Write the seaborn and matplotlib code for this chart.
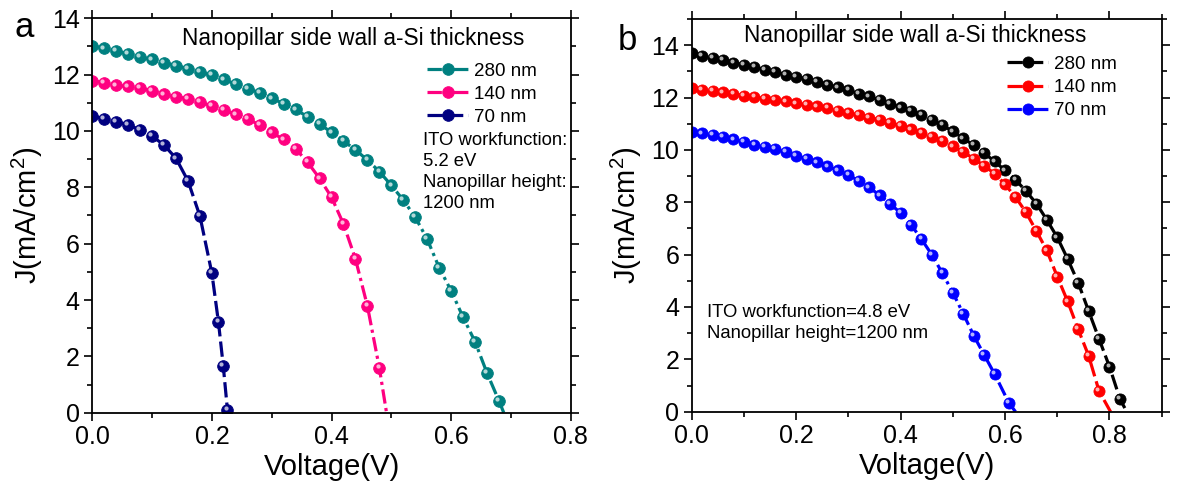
import matplotlib
matplotlib.use("Agg")
import matplotlib.pyplot as plt
import matplotlib.transforms as mtransforms
from matplotlib.ticker import MultipleLocator
import pandas as pd
import seaborn as sns

# ---------------- data ----------------
# Panel a : ITO workfunction 5.2 eV
a_labels = ["280 nm", "140 nm", "70 nm"]
a_colors = ["#008080", "#FF0080", "#000080"]

a280_v = [0.00, 0.02, 0.04, 0.06, 0.08, 0.10, 0.12, 0.14, 0.16, 0.18, 0.20, 0.22,
          0.24, 0.26, 0.28, 0.30, 0.32, 0.34, 0.36, 0.38, 0.40, 0.42, 0.44, 0.46,
          0.48, 0.50, 0.52, 0.54, 0.56, 0.58, 0.60, 0.62, 0.64, 0.66, 0.68]
a280_j = [13.03, 12.93, 12.84, 12.73, 12.62, 12.54, 12.43, 12.32, 12.21, 12.09, 11.98, 11.83,
          11.66, 11.50, 11.36, 11.16, 10.97, 10.77, 10.50, 10.25, 9.95, 9.65, 9.33, 8.97,
          8.56, 8.07, 7.55, 6.94, 6.16, 5.15, 4.33, 3.39, 2.52, 1.41, 0.42]
a280_voc = 0.688

a140_v = [0.00, 0.02, 0.04, 0.06, 0.08, 0.10, 0.12, 0.14, 0.16, 0.18, 0.20, 0.22,
          0.24, 0.26, 0.28, 0.30, 0.32, 0.34, 0.36, 0.38, 0.40, 0.42, 0.44, 0.46, 0.48]
a140_j = [11.78, 11.72, 11.62, 11.58, 11.52, 11.42, 11.30, 11.22, 11.14, 11.04, 10.88, 10.75,
          10.59, 10.43, 10.21, 9.95, 9.70, 9.37, 8.89, 8.32, 7.65, 6.70, 5.46, 3.79, 1.59]
a140_voc = 0.492

a70_v = [0.00, 0.02, 0.04, 0.06, 0.08, 0.10, 0.12, 0.14, 0.16, 0.18, 0.200, 0.211, 0.219, 0.226]
a70_j = [10.54, 10.43, 10.33, 10.22, 10.04, 9.82, 9.50, 9.03, 8.23, 6.98, 4.95, 3.21, 1.66, 0.10]
a70_voc = 0.228

# Panel b : ITO workfunction 4.8 eV
b_labels = ["280 nm", "140 nm", "70 nm"]
b_colors = ["#000000", "#FF0000", "#0000FF"]

b280_v = [0.00, 0.02, 0.04, 0.06, 0.08, 0.10, 0.12, 0.14, 0.16, 0.18, 0.20, 0.22,
          0.24, 0.26, 0.28, 0.30, 0.32, 0.34, 0.36, 0.38, 0.40, 0.42, 0.44, 0.46,
          0.48, 0.50, 0.52, 0.54, 0.56, 0.58, 0.60, 0.62, 0.64, 0.66, 0.68, 0.70,
          0.72, 0.74, 0.76, 0.78, 0.80, 0.82]
b280_j = [13.70, 13.60, 13.50, 13.43, 13.33, 13.25, 13.16, 13.06, 12.97, 12.88, 12.80, 12.71,
          12.59, 12.49, 12.39, 12.28, 12.15, 12.04, 11.91, 11.77, 11.62, 11.49, 11.33, 11.14,
          10.94, 10.71, 10.44, 10.18, 9.88, 9.56, 9.22, 8.86, 8.43, 7.95, 7.33, 6.66,
          5.83, 4.93, 3.85, 2.78, 1.72, 0.49]
b280_voc = 0.833

b140_v = [0.00, 0.02, 0.04, 0.06, 0.08, 0.10, 0.12, 0.14, 0.16, 0.18, 0.20, 0.22,
          0.24, 0.26, 0.28, 0.30, 0.32, 0.34, 0.36, 0.38, 0.40, 0.42, 0.44, 0.46,
          0.48, 0.50, 0.52, 0.54, 0.56, 0.58, 0.60, 0.62, 0.64, 0.66, 0.68, 0.70,
          0.72, 0.74, 0.76, 0.78]
b140_j = [12.37, 12.30, 12.24, 12.20, 12.14, 12.07, 12.02, 11.96, 11.91, 11.85, 11.78, 11.71,
          11.66, 11.59, 11.49, 11.41, 11.33, 11.23, 11.15, 11.04, 10.91, 10.78, 10.65, 10.51,
          10.33, 10.13, 9.93, 9.66, 9.40, 9.09, 8.68, 8.20, 7.62, 6.90, 6.16, 5.16,
          4.21, 3.15, 2.14, 0.79]
b140_voc = 0.802

b70_v = [0.00, 0.02, 0.04, 0.06, 0.08, 0.10, 0.12, 0.14, 0.16, 0.18, 0.20, 0.22,
         0.24, 0.26, 0.28, 0.30, 0.32, 0.34, 0.36, 0.38, 0.40, 0.42, 0.44, 0.46,
         0.48, 0.50, 0.52, 0.54, 0.56, 0.58, 0.607]
b70_j = [10.67, 10.63, 10.56, 10.49, 10.40, 10.32, 10.20, 10.12, 10.03, 9.91, 9.78, 9.65,
         9.52, 9.37, 9.22, 9.05, 8.81, 8.57, 8.26, 7.94, 7.59, 7.14, 6.59, 5.99,
         5.29, 4.55, 3.74, 2.91, 2.17, 1.44, 0.35]
b70_voc = 0.620

x_axis_label = "Voltage(V)"
y_axis_label = "J(mA/cm$^2$)"

# ---------------- style ----------------
sns.set_style("ticks")
plt.rcParams["font.family"] = ["Liberation Sans", "DejaVu Sans"]
plt.rcParams["mathtext.fontset"] = "custom"
plt.rcParams["mathtext.rm"] = "Liberation Sans"
plt.rcParams["mathtext.it"] = "Liberation Sans"
plt.rcParams["mathtext.default"] = "regular"
plt.rcParams["text.color"] = "black"
plt.rcParams["axes.labelcolor"] = "black"
plt.rcParams["xtick.color"] = "black"
plt.rcParams["ytick.color"] = "black"

DASHED = (0, (4.8, 1.6))
DASHDOT = (0, (4.5, 1.4, 1.0, 1.4))

fig = plt.figure(figsize=(11.77, 4.95), dpi=100)
ax1 = fig.add_axes([0.0784, 0.1663, 0.4065, 0.7967])
ax2 = fig.add_axes([0.5877, 0.1683, 0.3993, 0.7933])

hl_offset = mtransforms.ScaledTranslation(-1.8 / 100, 1.8 / 100, fig.dpi_scale_trans)


def draw(ax, v, j, voc, color, label, ls, ms=8.4):
    xs = list(v) + [voc]
    ys = list(j) + [0.0]
    df = pd.DataFrame({"V": xs, "J": ys})
    sns.lineplot(data=df, x="V", y="J", ax=ax, color=color, lw=2.3, linestyle=ls,
                 marker="o", markersize=ms, markeredgecolor=color, markeredgewidth=0.6,
                 markevery=list(range(len(v))), label=label, errorbar=None, sort=False,
                 legend=False)
    # sphere highlight
    ax.plot(v, j, linestyle="none", marker="o", markersize=ms * 0.36, color="white",
            alpha=0.7, markeredgewidth=0, transform=ax.transData + hl_offset)


draw(ax1, a280_v, a280_j, a280_voc, a_colors[0], a_labels[0], DASHDOT)
draw(ax1, a140_v, a140_j, a140_voc, a_colors[1], a_labels[1], DASHDOT)
draw(ax1, a70_v, a70_j, a70_voc, a_colors[2], a_labels[2], DASHED)

draw(ax2, b280_v, b280_j, b280_voc, b_colors[0], b_labels[0], DASHED, ms=8.0)
draw(ax2, b140_v, b140_j, b140_voc, b_colors[1], b_labels[1], DASHED, ms=8.0)
draw(ax2, b70_v, b70_j, b70_voc, b_colors[2], b_labels[2], DASHDOT, ms=8.0)

for ax, xmax, ymax in [(ax1, 0.8, 14), (ax2, 0.9, 15)]:
    ax.set_xlim(0, xmax)
    ax.set_ylim(0, ymax)
    ax.xaxis.set_major_locator(MultipleLocator(0.2))
    ax.xaxis.set_minor_locator(MultipleLocator(0.1))
    ax.yaxis.set_major_locator(MultipleLocator(2))
    ax.yaxis.set_minor_locator(MultipleLocator(1))
    ax.tick_params(which="both", direction="out", top=True, right=True, width=1.2,
                   color="black", labelsize=18, labelcolor="black")
    ax.tick_params(which="major", length=6, pad=3)
    ax.tick_params(which="minor", length=3.5)
    for s in ax.spines.values():
        s.set_linewidth(1.3)
        s.set_color("black")
    ax.set_xlabel(x_axis_label, fontsize=21, labelpad=3, color="black")
    ax.set_ylabel(y_axis_label, fontsize=21, labelpad=5, color="black")
    ax.set_facecolor("white")

# legends
h, l = ax1.get_legend_handles_labels()
ax1.legend(h, l, loc="upper left", bbox_to_anchor=(0.70, 0.888), frameon=False,
           fontsize=13.5, handlelength=2.2, handletextpad=0.3, labelspacing=0.32,
           borderaxespad=0, borderpad=0, labelcolor="black")
h, l = ax2.get_legend_handles_labels()
ax2.legend(h, l, loc="upper left", bbox_to_anchor=(0.671, 0.906), frameon=False,
           fontsize=13.5, handlelength=2.2, handletextpad=0.3, labelspacing=0.32,
           borderaxespad=0, borderpad=0, labelcolor="black")

# annotations
ax1.text(0.545, 0.95, "Nanopillar side wall a-Si thickness", transform=ax1.transAxes,
         ha="center", va="center", fontsize=16.3)
ax1.text(0.691, 0.712, "ITO workfunction:\n5.2 eV\nNanopillar height:\n1200 nm",
         transform=ax1.transAxes, ha="left", va="top", fontsize=13.3, linespacing=1.3)
ax2.text(0.476, 0.959, "Nanopillar side wall a-Si thickness", transform=ax2.transAxes,
         ha="center", va="center", fontsize=16.3)
ax2.text(0.032, 0.275, "ITO workfunction=4.8 eV\nNanopillar height=1200 nm",
         transform=ax2.transAxes, ha="left", va="top", fontsize=13.3, linespacing=1.3)

fig.text(24 / 1177, 1 - 37 / 495, "a", fontsize=25, ha="center", va="baseline")
fig.text(627 / 1177, 1 - 50 / 495, "b", fontsize=25, ha="center", va="baseline")

fig.savefig("out.png", dpi=100, facecolor="white")
